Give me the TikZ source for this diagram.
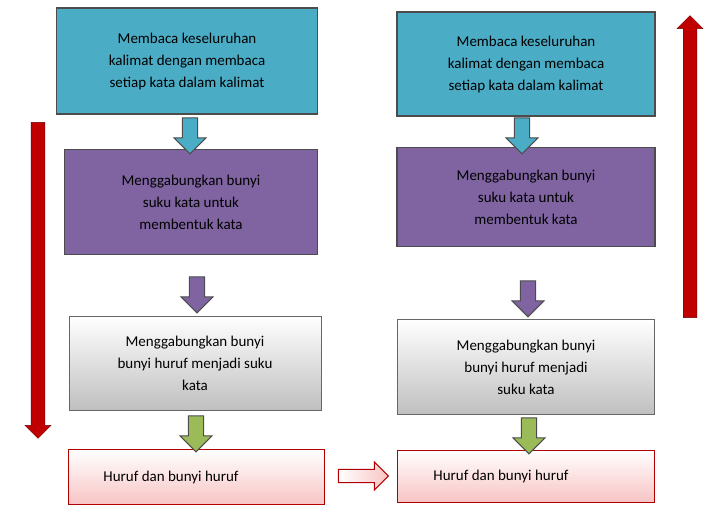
\documentclass[tikz,border=0pt]{standalone}
\usepackage{fontspec}
\setmainfont{Carlito}
\usetikzlibrary{shapes.arrows}
\definecolor{tealbox}{RGB}{75,172,198}
\definecolor{purplebox}{RGB}{128,100,162}
\definecolor{greenarr}{RGB}{155,187,89}
\definecolor{pinkbox}{RGB}{248,196,196}
\definecolor{redarr}{RGB}{192,0,0}
\tikzset{
  box/.style={draw=black!70, line width=1.6pt, align=center, inner sep=0pt, font=\fontsize{15}{22}\selectfont},
  tealstep/.style={box, fill=tealbox},
  purplestep/.style={box, fill=purplebox},
  graystep/.style={box, draw=black!60, line width=0.8pt, top color=white, bottom color=black!25},
  pinkstep/.style={box, draw=red!70!black, line width=0.8pt, top color=white, bottom color=pinkbox},
  blockarr/.style={single arrow, draw=black!70, line width=1pt, minimum height=36pt, minimum width=32pt, single arrow head extend=6pt, inner sep=5pt},
  bigarr/.style={single arrow, draw=redarr!60!black, fill=redarr, minimum width=26pt, single arrow head extend=2pt, inner sep=2pt}
}
\begin{document}
\begin{tikzpicture}[x=1pt,y=-1pt]
\useasboundingbox (0,0) rectangle (717,523);
% left column
\node[tealstep, minimum width=261pt, minimum height=106pt] (l1) at (187,61) {Membaca keseluruhan\\kalimat dengan membaca\\setiap kata dalam kalimat};
\node[purplestep, minimum width=253pt, minimum height=105pt] (l2) at (191,202) {Menggabungkan bunyi\\suku kata untuk\\membentuk kata};
\node[graystep, minimum width=252pt, minimum height=94pt] (l3) at (195,363) {Menggabungkan bunyi\\bunyi huruf menjadi suku\\kata};
\node[pinkstep, minimum width=256pt, minimum height=55pt] (l4) at (196,477) {\hspace*{-50pt}Huruf dan bunyi huruf};
% right column
\node[tealstep, minimum width=258pt, minimum height=104pt] (r1) at (526,64) {Membaca keseluruhan\\kalimat dengan membaca\\setiap kata dalam kalimat};
\node[purplestep, minimum width=258pt, minimum height=99pt] (r2) at (526,197) {Menggabungkan bunyi\\suku kata untuk\\membentuk kata};
\node[graystep, minimum width=257pt, minimum height=95pt] (r3) at (526,367) {Menggabungkan bunyi\\bunyi huruf menjadi\\suku kata};
\node[pinkstep, minimum width=257pt, minimum height=52pt] (r4) at (526,476) {\hspace*{-50pt}Huruf dan bunyi huruf};
% block arrows between steps
\node[blockarr, fill=tealbox, shape border rotate=270] (la1) at (190,132) {};
\node[blockarr, fill=purplebox, shape border rotate=270] (la2) at (197,291) {};
\node[blockarr, fill=greenarr, shape border rotate=270] (la3) at (196,430) {};
\node[blockarr, fill=tealbox, shape border rotate=270] (ra1) at (522,132) {};
\node[blockarr, fill=purplebox, shape border rotate=270] (ra2) at (528,295) {};
\node[blockarr, fill=greenarr, shape border rotate=270] (ra3) at (529,432) {};
\node[blockarr, draw=red!70!black, left color=white, right color=pinkbox, minimum height=50pt, minimum width=28pt] (mid) at (360,476) {};
% long red arrows
\node[bigarr, shape border rotate=270, minimum height=316pt] (down) at (38,277) {};
\node[bigarr, shape border rotate=90, minimum height=302pt] (up) at (690,170) {};
\end{tikzpicture}
\end{document}
